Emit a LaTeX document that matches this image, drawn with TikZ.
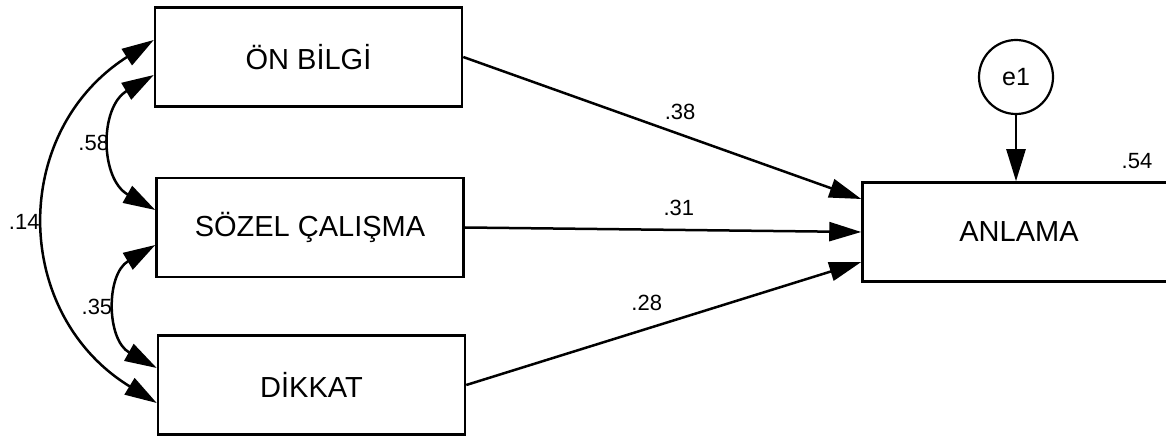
\documentclass[tikz,border=0pt]{standalone}
\usepackage{fontspec}
\setmainfont{Liberation Sans}
\usetikzlibrary{arrows.meta,positioning}

\begin{document}
\begin{tikzpicture}[x=1pt, y=1pt]
    \tikzset{>={Triangle[length=32pt, width=19pt]}}
    % Boxes, error circle and path coefficients
    \tikzstyle{var}   = [rectangle, draw = black, line width = 2.5pt, minimum width = 307pt, minimum height = 99pt, inner sep = 0pt, text centered, fill = white, font = \fontsize{29}{33}\selectfont]
    \tikzstyle{err}   = [circle, draw = black, line width = 2.2pt, minimum size = 74pt, inner sep = 0pt, font = \fontsize{25}{28}\selectfont]
    \tikzstyle{coef}  = [inner sep = 0pt, font = \fontsize{22}{25}\selectfont]
    \tikzstyle{arrow} = [line width = 2.5pt, ->]
    \tikzstyle{cov}   = [line width = 2.5pt, <->, looseness = 1.2]

    \useasboundingbox (0,0) rectangle (1166,436);

    \node[var] (onbilgi) at (308.5,379) {ÖN BİLGİ};
    \node[var] (sozel)   at (310,208.5) {SÖZEL ÇALIŞMA};
    \node[var] (dikkat)  at (311.5,51)  {DİKKAT};
    \node[var, minimum width = 313pt] (anlama) at (1019,204) {ANLAMA};
    \node[err] (e1)      at (1016,359)  {e1};

    \node[coef] (r2) at (1137,275) {.54};

    % Regression paths
    \draw[arrow] (onbilgi.east) -- node[coef, pos = 0.545, above = 13pt] {.38} ([yshift = 33pt]anlama.west);
    \draw[arrow] (sozel.east)   -- node[coef, pos = 0.54, above = 12.5pt] {.31} (anlama.west);
    \draw[arrow] (dikkat.east)  -- node[coef, pos = 0.457, above = 17pt] {.28} ([yshift = -30pt]anlama.west);
    \draw[arrow] (e1) -- (e1 |- anlama.north);

    % Covariances
    \draw[cov] ([yshift = 17pt]onbilgi.west) to[bend right = 58] node[coef, left = 6pt] {.14} ([yshift = -18pt]dikkat.west);
    \draw[cov] ([yshift = -18pt]onbilgi.west) to[bend right = 60] node[coef, left = 3pt] {.58} ([yshift = 17.5pt]sozel.west);
    \draw[cov] ([yshift = -17.5pt]sozel.west) to[bend right = 60] node[coef, left = 5pt] {.35} ([yshift = 17pt]dikkat.west);
\end{tikzpicture}
\end{document}
